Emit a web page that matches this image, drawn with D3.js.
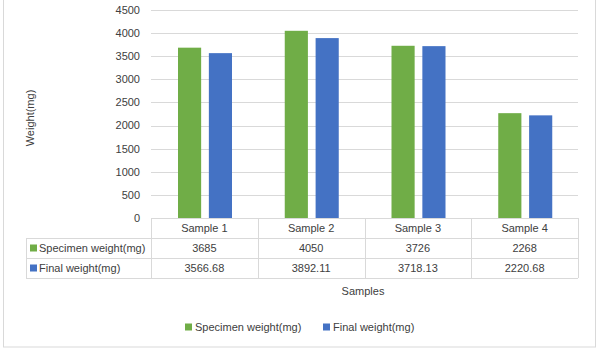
<!DOCTYPE html>
<html>
<head>
<meta charset="utf-8">
<title>Weight chart</title>
<style>
  body { margin: 0; background: #fff; }
  text { font-family: "Liberation Sans", Arial, sans-serif; fill: #404040; }
</style>
</head>
<body>
<svg id="chart" width="600" height="352"></svg>
<script src="https://d3js.org/d3.v7.min.js"></script>
<script>
// data
var samples = ["Sample 1", "Sample 2", "Sample 3", "Sample 4"];
var seriesNames = ["Specimen weight(mg)", "Final weight(mg)"];
var specimen = [3685, 4050, 3726, 2268];
var finalW = [3566.68, 3892.11, 3718.13, 2220.68];
var specimenLabels = ["3685", "4050", "3726", "2268"];
var finalLabels = ["3566.68", "3892.11", "3718.13", "2220.68"];
var yTicks = [0, 500, 1000, 1500, 2000, 2500, 3000, 3500, 4000, 4500];
var colors = ["#70AD47", "#4472C4"];

var svg = d3.select('#chart');
var grid = '#d9d9d9';

// outer chart border
svg.append('rect')
  .attr('x', 3.5).attr('y', -2).attr('width', 592).attr('height', 349)
  .attr('fill', 'none').attr('stroke', grid);

var x = d3.scaleBand().domain(samples).range([151, 578]);
var x1 = d3.scaleBand().domain([0, 1]).range([27, 81]).paddingInner(0.25);
var y = d3.scaleLinear().domain([0, 4500]).range([218, 10]);

// gridlines + y labels
svg.append('g').selectAll('line')
  .data(yTicks.slice(1))
  .enter().append('line')
  .attr('x1', 151).attr('x2', 578)
  .attr('y1', function(d) { return Math.round(y(d)) + 0.5; })
  .attr('y2', function(d) { return Math.round(y(d)) + 0.5; })
  .attr('stroke', grid);

svg.append('g').selectAll('text')
  .data(yTicks)
  .enter().append('text')
  .attr('x', 140)
  .attr('y', function(d) { return y(d); })
  .attr('dy', '0.35em')
  .attr('text-anchor', 'end')
  .attr('font-size', 11)
  .text(function(d) { return d; });

// bars
var values = [specimen, finalW];
values.forEach(function(vals, s) {
  svg.append('g').selectAll('rect')
    .data(vals)
    .enter().append('rect')
    .attr('x', function(d, i) { return x(samples[i]) + x1(s); })
    .attr('width', x1.bandwidth())
    .attr('y', function(d) { return y(d); })
    .attr('height', function(d) { return y(0) - y(d); })
    .attr('fill', colors[s]);
});

// data table
var rowY = [218, 238, 258, 278];
var t = svg.append('g').attr('shape-rendering', 'crispEdges');
// horizontal lines
t.append('line').attr('x1', 151).attr('x2', 578).attr('y1', rowY[0] + 0.5).attr('y2', rowY[0] + 0.5).attr('stroke', grid);
[1, 2, 3].forEach(function(r) {
  t.append('line').attr('x1', 26).attr('x2', 578).attr('y1', rowY[r] + 0.5).attr('y2', rowY[r] + 0.5).attr('stroke', grid);
});
// vertical lines
t.append('line').attr('x1', 26.5).attr('x2', 26.5).attr('y1', rowY[1]).attr('y2', rowY[3]).attr('stroke', grid);
samples.forEach(function(s) {
  t.append('line').attr('x1', x(s) + 0.5).attr('x2', x(s) + 0.5).attr('y1', rowY[0]).attr('y2', rowY[3]).attr('stroke', grid);
});
t.append('line').attr('x1', 578.5).attr('x2', 578.5).attr('y1', rowY[0]).attr('y2', rowY[3]).attr('stroke', grid);

svg.append('g').selectAll('text')
  .data(samples)
  .enter().append('text')
  .attr('x', function(d) { return x(d) + x.bandwidth() / 2; })
  .attr('y', 228).attr('dy', '0.35em')
  .attr('text-anchor', 'middle').attr('font-size', 11)
  .text(function(d) { return d; });

[specimenLabels, finalLabels].forEach(function(labels, s) {
  var cy = (rowY[s + 1] + rowY[s + 2]) / 2;
  svg.append('rect').attr('x', 30).attr('y', cy - 3.5).attr('width', 7).attr('height', 7).attr('fill', colors[s]);
  svg.append('text').attr('x', 39).attr('y', cy).attr('dy', '0.35em')
    .attr('font-size', 11).text(seriesNames[s]);
  svg.append('g').selectAll('text')
    .data(labels)
    .enter().append('text')
    .attr('x', function(d, i) { return x(samples[i]) + x.bandwidth() / 2; })
    .attr('y', cy).attr('dy', '0.35em')
    .attr('text-anchor', 'middle').attr('font-size', 11)
    .text(function(d) { return d; });
});

// axis titles
svg.append('text')
  .attr('transform', 'translate(30,118) rotate(-90)')
  .attr('text-anchor', 'middle').attr('dy', '0.35em')
  .attr('font-size', 11)
  .text('Weight(mg)');

svg.append('text')
  .attr('x', 363).attr('y', 291).attr('dy', '0.35em')
  .attr('text-anchor', 'middle').attr('font-size', 11)
  .text('Samples');

// legend
var legX = [185, 323];
seriesNames.forEach(function(n, s) {
  svg.append('rect').attr('x', legX[s]).attr('y', 323.5).attr('width', 7).attr('height', 7).attr('fill', colors[s]);
  svg.append('text').attr('x', legX[s] + 10).attr('y', 327).attr('dy', '0.35em')
    .attr('font-size', 11).text(n);
});
</script>
</body>
</html>
